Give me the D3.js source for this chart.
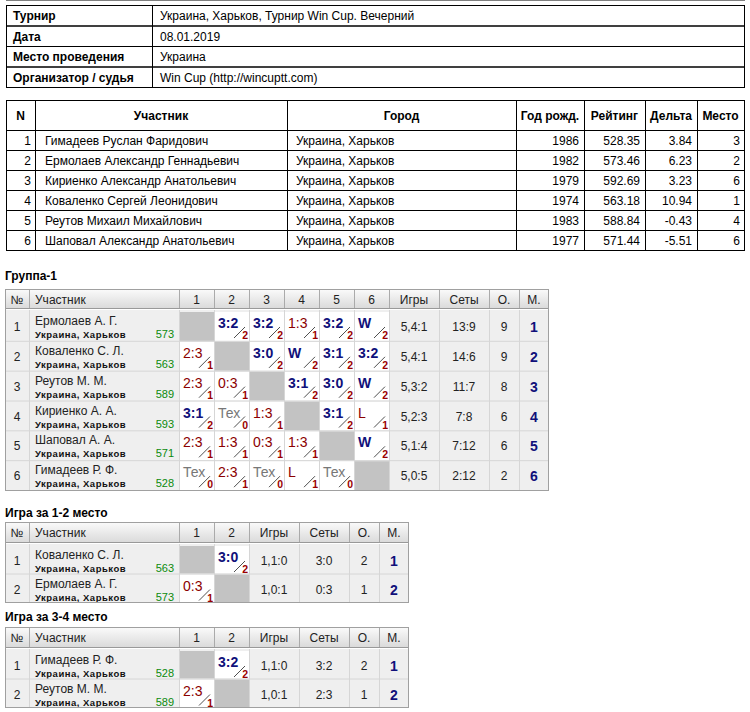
<!DOCTYPE html>
<html><head><meta charset="utf-8">
<script src="https://cdn.jsdelivr.net/npm/d3@7"></script>
<style>body{margin:0;background:#fff}text{font-family:"Liberation Sans",Arial,sans-serif}</style>
</head><body>
<script>
// --- data ---
const infoLabels = ['Турнир', 'Дата', 'Место проведения', 'Организатор / судья']
const infoValues = ['Украина, Харьков, Турнир Win Cup. Вечерний', '08.01.2019', 'Украина', 'Win Cup (http://wincuptt.com)']

const pHeaders = ['N', 'Участник', 'Город', 'Год рожд.', 'Рейтинг', 'Дельта', 'Место']
const pNames = ['Гимадеев Руслан Фаридович', 'Ермолаев Александр Геннадьевич', 'Кириенко Александр Анатольевич',
  'Коваленко Сергей Леонидович', 'Реутов Михаил Михайлович', 'Шаповал Александр Анатольевич']
const pCities = ['Украина, Харьков', 'Украина, Харьков', 'Украина, Харьков', 'Украина, Харьков', 'Украина, Харьков', 'Украина, Харьков']
const pYears = [1986, 1982, 1979, 1974, 1983, 1977]
const pRatings = ['528.35', '573.46', '592.69', '563.18', '588.84', '571.44']
const pDeltas = ['3.84', '6.23', '3.23', '10.94', '-0.43', '-5.51']
const pPlaces = [3, 2, 6, 1, 4, 6]

const g1Names = ['Ермолаев А. Г.', 'Коваленко С. Л.', 'Реутов М. М.', 'Кириенко А. А.', 'Шаповал А. А.', 'Гимадеев Р. Ф.']
const g1Ratings = [573, 563, 589, 593, 571, 528]
const g1Scores = [
  ['', '3:2/2', '3:2/2', '1:3/1', '3:2/2', 'W/2'],
  ['2:3/1', '', '3:0/2', 'W/2', '3:1/2', '3:2/2'],
  ['2:3/1', '0:3/1', '', '3:1/2', '3:0/2', 'W/2'],
  ['3:1/2', 'Тех/0', '1:3/1', '', '3:1/2', 'L/1'],
  ['2:3/1', '1:3/1', '0:3/1', '1:3/1', '', 'W/2'],
  ['Тех/0', '2:3/1', 'Тех/0', 'L/1', 'Тех/0', '']
]
const g1Games = ['5,4:1', '5,4:1', '5,3:2', '5,2:3', '5,1:4', '5,0:5']
const g1Sets = ['13:9', '14:6', '11:7', '7:8', '7:12', '2:12']
const g1Points = [9, 9, 8, 6, 6, 2]
const g1Places = [1, 2, 3, 4, 5, 6]

const f12Names = ['Коваленко С. Л.', 'Ермолаев А. Г.']
const f12Ratings = [563, 573]
const f12Scores = [['', '3:0/2'], ['0:3/1', '']]
const f12Games = ['1,1:0', '1,0:1']
const f12Sets = ['3:0', '0:3']
const f12Points = [2, 1]
const f12Places = [1, 2]

const f34Names = ['Гимадеев Р. Ф.', 'Реутов М. М.']
const f34Ratings = [528, 589]
const f34Scores = [['', '3:2/2'], ['2:3/1', '']]
const f34Games = ['1,1:0', '1,0:1']
const f34Sets = ['3:2', '2:3']
const f34Points = [2, 1]
const f34Places = [1, 2]

const svg = d3.select('body').append('svg').attr('width', 750).attr('height', 712)
const defs = svg.append('defs')
const grad = defs.append('linearGradient').attr('id', 'hg').attr('x1', 0).attr('y1', 0).attr('x2', 0).attr('y2', 1)
grad.append('stop').attr('offset', 0).attr('stop-color', '#fbfbfb')
grad.append('stop').attr('offset', 1).attr('stop-color', '#d9d9d9')

function txt (g, x, y, s, o) {
  o = o || {}
  return g.append('text').attr('x', x).attr('y', y).text(s)
    .attr('font-size', o.size || 12).attr('font-weight', o.bold ? 'bold' : null)
    .attr('fill', o.color || '#000').attr('text-anchor', o.anchor || 'start')
}

// --- info table ---
const infoY = d3.scaleBand().domain(d3.range(4)).range([5, 87])
const info = svg.append('g')
infoLabels.forEach((l, i) => {
  const y = infoY(i)
  info.append('rect').attr('x', 6.5).attr('y', y + 0.5).attr('width', 146).attr('height', infoY.bandwidth()).attr('fill', 'none').attr('stroke', '#000')
  info.append('rect').attr('x', 152.5).attr('y', y + 0.5).attr('width', 592).attr('height', infoY.bandwidth()).attr('fill', 'none').attr('stroke', '#000')
  txt(info, 13, y + 15, l, { bold: true })
  txt(info, 160, y + 15, infoValues[i])
})

// --- participants table ---
const pEdges = [6, 35, 287, 516, 584, 645, 697, 744]
const pY = d3.scaleBand().domain(d3.range(6)).range([130, 250])
const pt = svg.append('g')
pt.append('rect').attr('x', 6.5).attr('y', 100.5).attr('width', 738).attr('height', 150).attr('fill', 'none').attr('stroke', '#000')
pEdges.slice(1, -1).forEach(x => pt.append('line').attr('x1', x + 0.5).attr('x2', x + 0.5).attr('y1', 100).attr('y2', 250).attr('stroke', '#000'))
d3.range(7).forEach(i => pt.append('line').attr('x1', 6).attr('x2', 745).attr('y1', (i === 0 ? 130 : pY(i)) + 0.5).attr('y2', (i === 0 ? 130 : pY(i)) + 0.5).attr('stroke', '#000'))
pHeaders.forEach((h, j) => txt(pt, (pEdges[j] + pEdges[j + 1]) / 2, 120, h, { bold: true, anchor: 'middle' }))
pNames.forEach((n, i) => {
  const y = pY(i) + 15
  txt(pt, 31, y, i + 1, { anchor: 'end' })
  txt(pt, 45, y, n)
  txt(pt, 296, y, pCities[i])
  txt(pt, 579, y, pYears[i], { anchor: 'end' })
  txt(pt, 640, y, pRatings[i], { anchor: 'end' })
  txt(pt, 692, y, pDeltas[i], { anchor: 'end' })
  txt(pt, 740, y, pPlaces[i], { anchor: 'end' })
})

// --- group / playoff tables ---
function drawGroup (title, titleY, headTop, rowTop, rowBottom, names, ratings, scores, games, sets, pts, places) {
  const n = names.length
  const edges = [5, 29, 179]
  for (let k = 0; k < n; k++) edges.push(179 + 35 * (k + 1))
  let last = edges[edges.length - 1]
  ;[50, 50, 30, 30].forEach(w => { last += w; edges.push(last) })
  const heads = ['№', 'Участник'].concat(d3.range(1, n + 1).map(String), ['Игры', 'Сеты', 'О.', 'М.'])
  const y = d3.scaleBand().domain(d3.range(n)).range([rowTop, rowBottom])
  const h = y.bandwidth()
  const g = svg.append('g')
  const right = edges[edges.length - 1]
  txt(g, 5, titleY, title, { bold: true })
  g.append('rect').attr('x', 5).attr('y', headTop).attr('width', right - 5).attr('height', rowTop - headTop - 2).attr('fill', 'url(#hg)')
  g.append('line').attr('x1', 5).attr('x2', right).attr('y1', rowTop - 2.5).attr('y2', rowTop - 2.5).attr('stroke', '#999')
  heads.forEach((t, j) => {
    if (j > 0) g.append('line').attr('x1', edges[j] + 0.5).attr('x2', edges[j] + 0.5).attr('y1', headTop + 1).attr('y2', rowTop - 3).attr('stroke', '#aaa')
    if (j === 1) txt(g, edges[1] + 6, headTop + 15, t, { color: '#222' })
    else txt(g, (edges[j] + edges[j + 1]) / 2, headTop + 15, t, { color: '#222', anchor: 'middle' })
  })
  g.append('rect').attr('x', 5).attr('y', rowTop - 1).attr('width', right - 5).attr('height', rowBottom - rowTop + 1).attr('fill', '#efefef')
  for (let i = 0; i < n; i++) {
    const top = y(i)
    txt(g, 17, top + 20, i + 1, { anchor: 'middle', color: '#222' })
    txt(g, 35, top + 14, names[i], { color: '#222' })
    txt(g, 35, top + 27, 'Украина, Харьков', { size: 9.5, bold: true, color: '#111' }).attr('letter-spacing', 0.5)
    txt(g, 174, top + 27, ratings[i], { size: 11, color: '#0a8a0a', anchor: 'end' })
    for (let k = 0; k < n; k++) {
      const x = edges[2 + k]
      const cell = g.append('g').attr('transform', `translate(${x},${top})`)
      if (i === k) { cell.append('rect').attr('x', 1).attr('y', 1).attr('width', 34).attr('height', h - 1).attr('fill', '#c3c3c3'); continue }
      cell.append('rect').attr('x', 1).attr('y', 1).attr('width', 34).attr('height', h - 1).attr('fill', '#fff')
      const [sc, p] = scores[i][k].split('/')
      const win = p === '2'
      const tech = sc === 'Тех'
      const col = win ? '#10107a' : tech ? '#777' : '#8b0000'
      txt(cell, 4, 17, sc, { size: 14, bold: win, color: col })
      cell.append('line').attr('x1', 20).attr('y1', 27).attr('x2', 31).attr('y2', 16).attr('stroke', '#222').attr('stroke-width', 0.8)
      txt(cell, 34, 28, p, { size: 10.5, bold: true, color: '#9a0000', anchor: 'end' })
    }
    const c = edges.length - 5
    txt(g, (edges[c] + edges[c + 1]) / 2, top + 20, games[i], { anchor: 'middle', color: '#222' })
    txt(g, (edges[c + 1] + edges[c + 2]) / 2, top + 20, sets[i], { anchor: 'middle', color: '#222' })
    txt(g, (edges[c + 2] + edges[c + 3]) / 2, top + 20, pts[i], { anchor: 'middle', color: '#222' })
    txt(g, (edges[c + 3] + edges[c + 4]) / 2, top + 21, places[i], { anchor: 'middle', bold: true, size: 14, color: '#10107a' })
  }
  // grid
  edges.slice(1, -1).forEach(x => g.append('line').attr('x1', x + 0.5).attr('x2', x + 0.5).attr('y1', rowTop - 1).attr('y2', rowBottom).attr('stroke', '#d6d6d6'))
  for (let i = 1; i < n; i++) g.append('line').attr('x1', 5).attr('x2', right).attr('y1', y(i) + 0.5).attr('y2', y(i) + 0.5).attr('stroke', '#d6d6d6')
  g.append('rect').attr('x', 5.5).attr('y', headTop + 0.5).attr('width', right - 6).attr('height', rowBottom - headTop).attr('fill', 'none').attr('stroke', '#a0a0a0')
}

drawGroup('Группа-1', 280, 289, 311, 490, g1Names, g1Ratings, g1Scores, g1Games, g1Sets, g1Points, g1Places)
drawGroup('Игра за 1-2 место', 517, 522, 545, 602, f12Names, f12Ratings, f12Scores, f12Games, f12Sets, f12Points, f12Places)
drawGroup('Игра за 3-4 место', 621, 627, 650, 707, f34Names, f34Ratings, f34Scores, f34Games, f34Sets, f34Points, f34Places)
</script>
</body></html>
